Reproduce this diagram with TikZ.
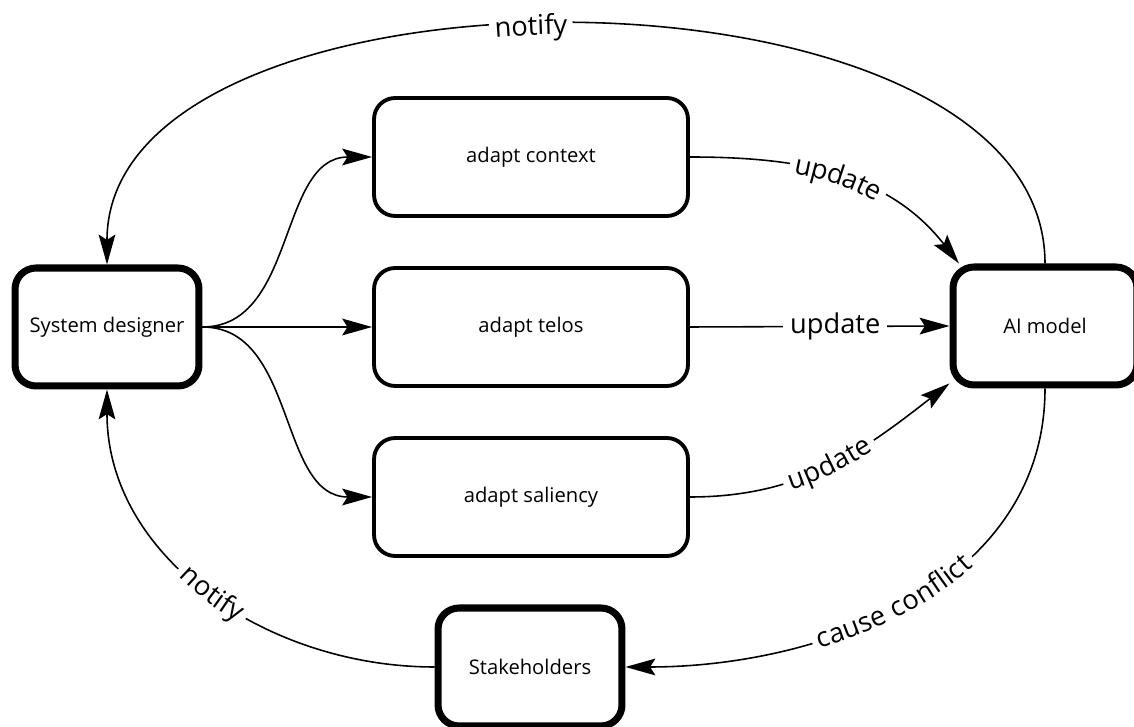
\documentclass[tikz,border=0pt]{standalone}
\usepackage{fontspec}
\setmainfont{Open Sans}
\usetikzlibrary{arrows.meta,decorations.text}

\newcommand{\boxfont}{\fontsize{11.5}{14}\selectfont}
\newcommand{\tagfont}{\fontsize{15.5}{18}\selectfont}

\begin{document}
\begin{tikzpicture}[
  x=0.02cm, y=0.02cm,
  actor/.style={draw, line width=4pt, rounded corners=12pt, fill=white,
                minimum width=3.68cm, minimum height=2.36cm, font=\boxfont},
  task/.style={draw, line width=2.2pt, rounded corners=12pt,
               minimum width=6.28cm, minimum height=2.36cm, font=\boxfont},
  arr/.style={line width=0.9pt, -{Stealth[length=17pt, width=9.5pt, inset=3pt]}},
  rarr/.style={line width=0.9pt, {Stealth[length=17pt, width=9.5pt, inset=3pt]}-},
  % curved label: white band first, then the letters on top
  tag/.style={
    postaction={decorate, decoration={text effects along path, text={#1},
      text align=center, raise=-0.6ex, text effects/.cd, text along path,
      character widths={inner xsep=0pt},
      every character/.append style={fill=white, text=white, inner xsep=3pt}}},
    postaction={decorate, decoration={text effects along path, text={#1},
      text align=center, raise=-0.6ex, text effects/.cd, text along path}}},
  tag/.default=update]
\tagfont
\useasboundingbox (0,0) rectangle (1134,727);

\node[actor] (sys)   at (107,400) {System designer};
\node[task]  (ctx)   at (531,570) {adapt context};
\node[task]  (telos) at (531,400) {adapt telos};
\node[task]  (sal)   at (531,230) {adapt saliency};
\node[actor] (ai)    at (1045,401) {AI model};
\node[actor] (stake) at (530,60) {Stakeholders};

\foreach \t in {ctx,telos,sal}
  \draw[arr] (sys.east) to[out=0,in=180] (\t.west);

\draw[arr, tag] (ctx.east) to[out=0,in=128] (ai.144);
\draw[arr] (telos.east) -- node[pos=0.56, fill=white, inner xsep=4pt] (upd) {update} (ai.west);
\draw[arr, tag] (sal.east) to[out=0,in=218] (ai.211);

\draw[rarr, tag=notify, decoration={post length=1.8cm}] (sys.north) to[out=90,in=90,looseness=0.87] (ai.north);
\draw[rarr, tag=cause conflict] (stake.east) to[out=0,in=-90] (ai.south);
\draw[rarr, tag=notify] (sys.south) to[out=-90,in=180] (stake.west);

\end{tikzpicture}
\end{document}
